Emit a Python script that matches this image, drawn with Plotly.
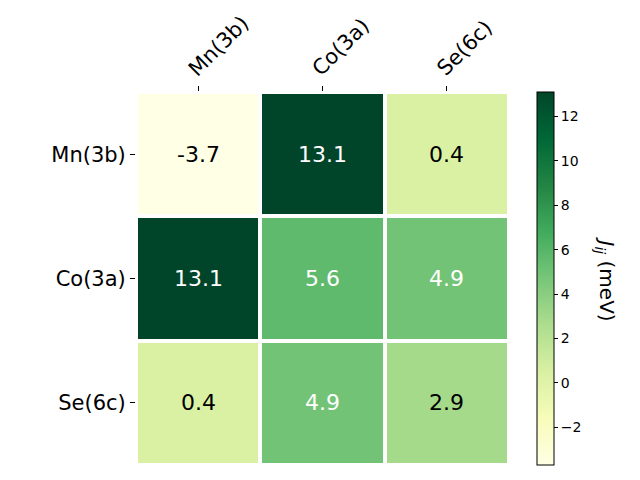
import plotly.graph_objects as go

labels = ["Mn(3b)", "Co(3a)", "Se(6c)"]
values = [
    [-3.7, 13.1, 0.4],
    [13.1, 5.6, 4.9],
    [0.4, 4.9, 2.9],
]
text_colors = [
    ["black", "white", "black"],
    ["white", "white", "white"],
    ["black", "white", "black"],
]
zmin, zmax = -3.7, 13.1
cbar_ticks = [-2, 0, 2, 4, 6, 8, 10, 12]

FONT = "DejaVu Sans"

fig = go.Figure(go.Heatmap(
    z=values, x=labels, y=labels,
    colorscale="YlGn", zmin=zmin, zmax=zmax,
    xgap=4, ygap=4, hoverinfo="skip",
    colorbar=dict(
        x=(529 - 128) / 373, xanchor="left", xref="paper", xpad=0, ypad=0,
        y=0.5, yanchor="middle", len=1, lenmode="fraction",
        thickness=17, outlinewidth=1, outlinecolor="black",
        tickvals=cbar_ticks, ticktext=[("\u2212" + str(-t)) if t < 0 else str(t) for t in cbar_ticks],
        ticks="outside", ticklen=4, tickwidth=1, tickcolor="black",
        tickfont=dict(family=FONT, size=14, color="black"),
    ),
))

annotations = []
for i, row in enumerate(values):
    for j, v in enumerate(row):
        annotations.append(dict(
            x=labels[j], y=labels[i], xref="x", yref="y",
            text=str(v), showarrow=False,
            font=dict(family=FONT, size=22, color=text_colors[i][j]),
        ))
for lab in labels:
    annotations.append(dict(
        x=lab, y=1, xref="x", yref="paper", text=lab, textangle=-45,
        xanchor="left", yanchor="bottom", xshift=-16, yshift=10,
        showarrow=False, borderpad=0,
        font=dict(family=FONT, size=21, color="black"),
    ))
annotations.append(dict(
    x=(598 - 128) / 373, y=0.5, xref="paper", yref="paper", xanchor="center", yanchor="middle",
    text="<i>J</i><sub><i>ij</i></sub> (meV)", textangle=90, showarrow=False,
    font=dict(family=FONT, size=20, color="black"),
))

fig.update_layout(
    width=640, height=480,
    margin=dict(l=128, r=139, t=84, b=23, autoexpand=False),
    paper_bgcolor="white", plot_bgcolor="white",
    font=dict(family=FONT),
    annotations=annotations,
    xaxis=dict(side="top", ticks="outside", ticklen=5, tickcolor="black", showticklabels=False,
               automargin=False, showgrid=False, zeroline=False, showline=False),
    yaxis=dict(autorange="reversed", ticks="outside", ticklen=5, tickcolor="black",
               tickfont=dict(family=FONT, size=21, color="black"), automargin=False,
               showgrid=False, zeroline=False, showline=False),
)

fig.write_html("out.html")
